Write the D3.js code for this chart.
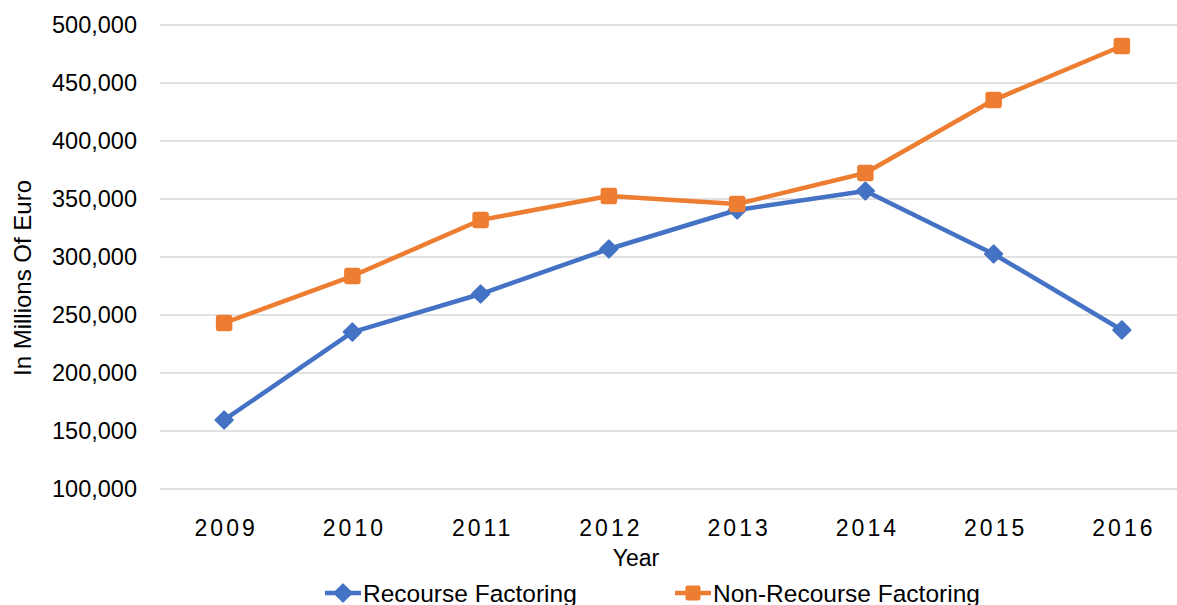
<!DOCTYPE html>
<html>
<head>
<meta charset="utf-8">
<script src="https://cdn.jsdelivr.net/npm/d3@7"></script>
<style>
  html, body { margin: 0; padding: 0; background: #fff; }
  svg { display: block; font-family: "Liberation Sans", Arial, sans-serif; }
</style>
</head>
<body>
<div id="chart"></div>
<script>
const years = ["2009", "2010", "2011", "2012", "2013", "2014", "2015", "2016"];
const recourse = [159500, 235300, 268100, 306900, 340500, 356900, 302600, 237100];
const nonRecourse = [243100, 283600, 331900, 352600, 345700, 372400, 435300, 481900];
const yTicks = [100000, 150000, 200000, 250000, 300000, 350000, 400000, 450000, 500000];

const W = 1177, H = 605;
const margin = {top: 25, left: 160, right: -9, bottom: 116};
const blue = "#4472c4", orange = "#ed7d31";

const svg = d3.select("#chart").append("svg")
  .attr("width", W)
  .attr("height", H);

const x = d3.scalePoint()
  .domain(years)
  .range([margin.left, W - margin.right])
  .padding(0.5);

const y = d3.scaleLinear()
  .domain([100000, 500000])
  .range([H - margin.bottom, margin.top]);

// gridlines
svg.append("g")
  .selectAll("line")
  .data(yTicks)
  .join("line")
  .attr("x1", margin.left)
  .attr("x2", W - margin.right)
  .attr("y1", d => y(d))
  .attr("y2", d => y(d))
  .attr("stroke", "#d9d9d9")
  .attr("stroke-width", 1.3);

// y axis labels
const yAxis = svg.append("g")
  .attr("transform", "translate(" + (margin.left - 23) + ",0)")
  .call(d3.axisLeft(y).tickValues(yTicks).tickSize(0).tickPadding(0).tickFormat(d3.format(",")));
yAxis.select(".domain").remove();
yAxis.selectAll("text")
  .attr("font-size", 23.5)
  .attr("font-family", "Liberation Sans, Arial, sans-serif")
  .attr("fill", "#000");

// x axis labels
const xAxis = svg.append("g")
  .attr("transform", "translate(0," + (H - margin.bottom) + ")")
  .call(d3.axisBottom(x).tickSize(0).tickPadding(31));
xAxis.select(".domain").remove();
xAxis.selectAll("text")
  .attr("font-size", 23)
  .attr("font-family", "Liberation Sans, Arial, sans-serif")
  .attr("letter-spacing", 3)
  .attr("dx", 1.5)
  .attr("fill", "#000");

// axis titles
svg.append("text")
  .attr("x", 636)
  .attr("y", 566)
  .attr("text-anchor", "middle")
  .attr("font-size", 23)
  .text("Year");

svg.append("text")
  .attr("transform", "translate(31,278) rotate(-90)")
  .attr("text-anchor", "middle")
  .attr("font-size", 24)
  .text("In Millions Of Euro");

const line = d3.line()
  .x((d, i) => x(years[i]))
  .y(d => y(d));

const diamond = d3.symbol().type(d3.symbolDiamond2).size(190);

// recourse series
svg.append("path")
  .datum(recourse)
  .attr("fill", "none")
  .attr("stroke", blue)
  .attr("stroke-width", 4.5)
  .attr("stroke-linejoin", "round")
  .attr("d", line);

svg.append("g")
  .selectAll("path")
  .data(recourse)
  .join("path")
  .attr("d", diamond)
  .attr("transform", (d, i) => "translate(" + x(years[i]) + "," + y(d) + ")")
  .attr("fill", blue)
  .attr("stroke", blue)
  .attr("stroke-width", 2)
  .attr("stroke-linejoin", "round");

// non-recourse series
svg.append("path")
  .datum(nonRecourse)
  .attr("fill", "none")
  .attr("stroke", orange)
  .attr("stroke-width", 4.5)
  .attr("stroke-linejoin", "round")
  .attr("d", line);

svg.append("g")
  .selectAll("rect")
  .data(nonRecourse)
  .join("rect")
  .attr("x", (d, i) => x(years[i]) - 7.5)
  .attr("y", d => y(d) - 7.5)
  .attr("width", 15)
  .attr("height", 15)
  .attr("rx", 2)
  .attr("fill", orange)
  .attr("stroke", orange)
  .attr("stroke-width", 1.5);

// legend
const legendItems = [
  {name: "Recourse Factoring", color: blue, shape: "diamond", x: 325},
  {name: "Non-Recourse Factoring", color: orange, shape: "square", x: 675}
];
const legend = svg.append("g")
  .selectAll("g")
  .data(legendItems)
  .join("g")
  .attr("transform", d => "translate(" + d.x + ",593)");

legend.append("line")
  .attr("x1", 0)
  .attr("x2", 36)
  .attr("stroke", d => d.color)
  .attr("stroke-width", 4.5);

legend.filter(d => d.shape === "diamond").append("path")
  .attr("d", diamond)
  .attr("transform", "translate(18,0)")
  .attr("fill", d => d.color)
  .attr("stroke", d => d.color)
  .attr("stroke-width", 2)
  .attr("stroke-linejoin", "round");

legend.filter(d => d.shape === "square").append("rect")
  .attr("x", 10.5)
  .attr("y", -7.5)
  .attr("width", 15)
  .attr("height", 15)
  .attr("rx", 2)
  .attr("fill", d => d.color);

legend.append("text")
  .attr("x", 38)
  .attr("y", 8.5)
  .attr("font-size", 24.5)
  .text(d => d.name);
</script>
</body>
</html>
